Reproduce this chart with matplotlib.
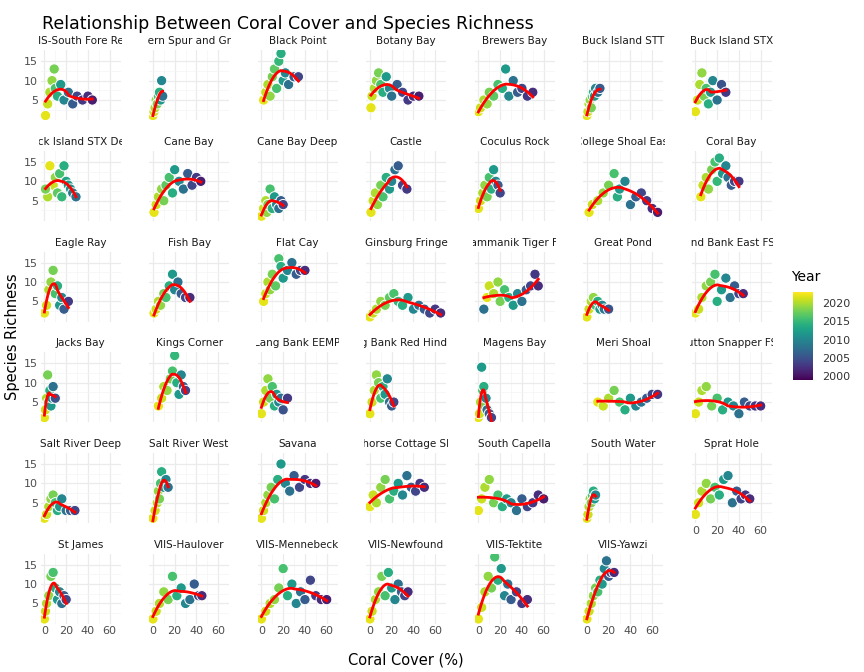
import numpy as np
import matplotlib
matplotlib.use('Agg')
import matplotlib.pyplot as plt
from matplotlib.transforms import Bbox, TransformedBbox

sites = ['VIIS-South Fore Reef', 'Western Spur and Groove', 'Black Point', 'Botany Bay', 'Brewers Bay',
         'Buck Island STT', 'Buck Island STX', 'Buck Island STX Deep', 'Cane Bay', 'Cane Bay Deep',
         'Castle', 'Coculus Rock', 'College Shoal East', 'Coral Bay', 'Eagle Ray', 'Fish Bay', 'Flat Cay',
         'Ginsburg Fringe', 'Grammanik Tiger FSA', 'Great Pond', 'Hind Bank East FSA', 'Jacks Bay',
         'Kings Corner', 'Lang Bank EEMP', 'Lang Bank Red Hind FSA', 'Magens Bay', 'Meri Shoal',
         'Mutton Snapper FSA', 'Salt River Deep', 'Salt River West', 'Savana', 'Seahorse Cottage Shoal',
         'South Capella', 'South Water', 'Sprat Hole', 'St James', 'VIIS-Haulover', 'VIIS-Mennebeck',
         'VIIS-Newfound', 'VIIS-Tektite', 'VIIS-Yawzi']

cover = [
    [1,3,5,7,9,10,12,15,18,22,26,30,35,40,44],
    [0,1,2,3,4,5,6,7,8,9],
    [2,4,6,8,10,12,14,16,18,20,22,25,30,34],
    [1,2,4,6,8,10,12,15,18,20,25,30,35,40,45],
    [0,2,5,8,10,14,18,22,25,28,32,36,40,45,50],
    [0,1,2,3,4,5,6,7,8,10,12],
    [0,2,4,6,8,10,12,14,16,20,24,28],
    [1,3,5,8,10,12,14,16,18,20,22,24,26,29],
    [1,3,5,8,10,12,15,18,20,24,28,32,36,40,44],
    [0,2,4,5,6,8,10,12,14,16,18,20],
    [1,3,5,7,10,12,15,18,20,23,26,30,34],
    [0,2,4,6,8,10,12,14,16,18,20],
    [2,5,10,15,20,25,28,30,35,40,45,50,55,60,65],
    [5,7,10,12,15,18,20,22,25,28,30,33,36,40],
    [0,2,4,6,8,10,12,14,16,18,22],
    [1,3,5,7,10,12,15,18,20,23,26,30,34],
    [2,4,6,8,10,13,16,18,20,24,28,32,36,40],
    [0,3,6,10,14,18,22,26,30,35,40,45,50,55,60,65],
    [5,8,10,14,18,20,24,28,32,36,40,44,48,52,55],
    [0,2,4,6,8,10,12,14,16,20],
    [0,3,6,10,14,18,20,24,28,32,36,40,44],
    [0,1,2,3,4,5,6,7,8,10],
    [5,8,10,13,16,18,20,22,24,26,28,30],
    [0,2,4,6,8,10,12,14,16,18,20,24],
    [0,2,4,6,8,10,12,14,16,18,20,22],
    [0,1,2,3,4,5,6,7,8,10,12],
    [10,15,20,25,30,35,40,45,50,55,60,65],
    [0,3,6,10,15,20,25,30,35,40,45,50,55,60],
    [0,2,4,6,8,10,12,14,16,20,24,28],
    [0,2,4,5,6,7,8,10,12,14],
    [0,2,4,6,9,12,15,18,22,26,30,35,40,45,50],
    [0,3,6,10,14,18,22,26,30,34,38,42,46,50],
    [0,3,6,10,14,18,22,26,30,35,40,45,50,55,60],
    [0,1,2,3,4,5,6,7,8],
    [0,3,6,10,14,18,22,26,30,34,38,42,46,50],
    [0,1,2,4,6,8,10,12,14,16,18,20],
    [0,3,6,10,14,18,22,26,30,34,38,42,45],
    [0,4,8,12,16,20,24,28,32,36,40,45,50,55,60],
    [0,2,5,8,11,14,17,20,23,26,29,32,35],
    [0,3,6,9,12,15,18,21,24,27,30,35,40,45],
    [0,2,4,6,8,10,12,14,16,18,20,22,25],
]

richness = [
    [1,4,7,10,13,8,6,9,5,7,4,6,5,6,5],
    [1,2,3,5,4,6,7,5,10,6],
    [5,7,9,6,11,13,8,15,17,10,12,9,11,11],
    [3,6,8,10,12,9,7,11,8,6,9,7,5,6,6],
    [2,3,5,4,7,6,9,8,13,6,10,7,8,6,7],
    [1,2,4,5,3,6,7,6,8,7,8],
    [2,5,9,12,6,8,4,7,10,5,9,7],
    [8,6,14,9,11,7,12,6,14,10,9,8,7,6],
    [2,4,6,8,5,9,11,7,13,10,8,12,9,11,10],
    [1,3,5,2,4,8,3,6,4,3,5,4],
    [2,5,7,4,9,6,11,8,10,13,14,9,8],
    [3,5,7,9,6,11,8,13,10,9,7],
    [2,4,5,7,9,12,6,8,10,4,6,7,5,3,2],
    [6,9,11,8,13,15,10,16,12,14,11,9,10,10],
    [2,4,8,10,13,7,9,4,6,3,5],
    [2,3,5,4,7,6,9,12,8,10,7,6,6],
    [5,7,10,8,12,9,16,14,11,13,15,12,13,13],
    [1,2,3,5,4,6,7,5,4,6,3,4,3,2,3,2],
    [3,6,9,7,10,5,8,6,4,7,5,8,9,12,9],
    [1,3,5,6,4,5,3,4,3,3],
    [2,3,6,9,10,12,5,8,11,6,9,7,7],
    [1,3,6,12,5,8,4,6,9,6],
    [4,6,9,8,11,13,17,10,7,12,9,8],
    [2,5,8,11,6,9,4,7,5,6,3,6],
    [2,5,8,12,10,6,9,7,11,5,4,5],
    [1,2,5,14,8,9,4,6,3,2,1],
    [5,4,6,8,5,3,6,4,5,6,7,7],
    [2,5,8,9,4,6,3,5,4,2,5,4,4,4],
    [1,2,4,6,7,5,3,4,6,3,3,3],
    [1,3,5,8,6,10,13,9,11,9],
    [1,3,5,7,9,6,11,15,10,8,12,9,11,10,10],
    [4,7,5,9,11,6,8,10,7,12,9,8,10,9],
    [3,6,9,11,5,7,4,6,5,3,6,4,5,7,6],
    [1,2,4,6,5,7,8,6,7],
    [2,5,8,10,6,9,7,11,12,5,8,6,7,6],
    [1,3,5,7,12,13,9,6,8,5,7,6],
    [1,3,5,8,6,12,7,9,5,6,10,7,7],
    [1,3,5,6,9,14,7,10,5,8,6,11,7,6,6],
    [1,3,6,8,12,7,13,9,6,10,8,7,8],
    [1,4,8,12,9,17,11,14,7,10,6,8,5,6],
    [1,3,5,7,9,8,11,10,14,16,12,13,13],
]

year = [
    [2022,2021,2020,2019,2018,2016,2014,2012,2010,2008,2006,2004,2003,2002,2001],
    [2022,2021,2020,2019,2018,2016,2014,2012,2010,2008],
    [2022,2021,2020,2019,2018,2017,2016,2015,2014,2012,2010,2008,2006,2004],
    [2022,2021,2020,2019,2018,2016,2014,2012,2010,2008,2006,2004,2003,2002,2001],
    [2022,2021,2020,2019,2018,2017,2016,2014,2012,2010,2008,2006,2004,2003,2002],
    [2022,2021,2020,2019,2018,2016,2014,2012,2010,2008,2006],
    [2022,2021,2020,2019,2018,2016,2014,2012,2010,2008,2005,2003],
    [2018,2020,2022,2021,2019,2017,2016,2015,2014,2013,2012,2011,2009,2008],
    [2022,2021,2020,2019,2018,2017,2016,2014,2012,2010,2008,2006,2004,2003,2001],
    [2022,2021,2020,2019,2018,2016,2014,2012,2010,2008,2006,2004],
    [2022,2021,2020,2019,2018,2016,2014,2012,2010,2008,2006,2004,2003],
    [2022,2021,2020,2019,2018,2016,2014,2012,2010,2006,2004],
    [2022,2021,2020,2019,2018,2016,2014,2012,2010,2008,2006,2004,2003,2002,2001],
    [2022,2021,2020,2019,2018,2016,2015,2014,2012,2010,2008,2006,2004,2003],
    [2022,2021,2020,2019,2018,2016,2014,2012,2010,2006,2003],
    [2022,2021,2020,2019,2018,2016,2014,2012,2010,2008,2006,2004,2002],
    [2022,2021,2020,2019,2018,2017,2016,2014,2012,2010,2008,2006,2004,2002],
    [2022,2021,2020,2019,2018,2017,2016,2015,2014,2012,2010,2008,2006,2004,2003,2002],
    [2008,2022,2021,2020,2019,2018,2016,2014,2012,2010,2008,2006,2004,2003,2002],
    [2022,2021,2020,2019,2016,2014,2012,2010,2008,2005],
    [2022,2021,2020,2019,2018,2016,2014,2012,2010,2008,2006,2004,2002],
    [2022,2021,2020,2018,2016,2014,2012,2010,2008,2005],
    [2022,2021,2020,2019,2018,2016,2015,2014,2012,2010,2006,2004],
    [2022,2021,2020,2019,2018,2016,2014,2012,2010,2008,2005,2003],
    [2022,2021,2020,2019,2018,2016,2014,2012,2010,2008,2006,2004],
    [2022,2021,2020,2012,2016,2014,2018,2010,2008,2006,2004],
    [2022,2021,2020,2018,2016,2014,2012,2010,2008,2006,2004,2003],
    [2022,2021,2020,2019,2018,2016,2014,2012,2010,2008,2006,2004,2003,2002],
    [2022,2021,2020,2019,2018,2016,2014,2012,2010,2008,2006,2004],
    [2022,2021,2020,2019,2018,2016,2014,2012,2010,2008],
    [2022,2021,2020,2019,2018,2016,2014,2012,2010,2008,2006,2004,2003,2002,2001],
    [2022,2021,2020,2019,2018,2016,2014,2012,2010,2008,2006,2004,2003,2002],
    [2022,2021,2020,2019,2018,2016,2014,2012,2010,2008,2006,2004,2003,2002,2001],
    [2022,2021,2020,2019,2018,2016,2014,2012,2010],
    [2022,2021,2020,2019,2018,2016,2014,2012,2010,2008,2006,2004,2003,2002],
    [2022,2021,2020,2019,2018,2016,2014,2012,2010,2008,2006,2004],
    [2022,2021,2020,2019,2018,2016,2014,2012,2010,2008,2006,2004,2002],
    [2022,2021,2020,2019,2018,2016,2014,2012,2010,2008,2006,2004,2003,2002,2001],
    [2022,2021,2020,2019,2018,2016,2014,2012,2010,2008,2006,2004,2002],
    [2022,2021,2020,2019,2018,2016,2014,2012,2010,2008,2006,2004,2003,2002],
    [2022,2021,2020,2019,2018,2016,2014,2012,2010,2008,2006,2004,2002],
]


def loess(x, y, span=1.0, n=80):
    # local quadratic fit with tricube weights, like ggplot's geom_smooth
    x = np.asarray(x, float)
    y = np.asarray(y, float)
    grid = np.linspace(x.min(), x.max(), n)
    q = int(np.ceil(span * len(x)))
    out = []
    for g in grid:
        d = np.abs(x - g)
        h = np.sort(d)[q - 1] * 1.15 + 1e-9
        w = (1 - (d / h) ** 3) ** 3
        w[d >= h] = 0
        X = np.column_stack([np.ones_like(x), x - g, (x - g) ** 2])
        sw = np.sqrt(w)
        beta = np.linalg.lstsq(X * sw[:, None], y * sw, rcond=None)[0]
        out.append(beta[0])
    return grid, np.array(out)


fig = plt.figure(figsize=(8.64, 6.72), dpi=100)
ncol, nrow = 7, 6
left, right, top, bottom = 0.047, 0.893, 0.925, 0.072
gapx, gapy = 0.033, 0.046
w = (right - left - gapx * (ncol - 1)) / ncol
h = (top - bottom - gapy * (nrow - 1)) / nrow
cmap = plt.get_cmap('viridis')
norm = plt.Normalize(1999, 2023)

for i, site in enumerate(sites):
    r, c = divmod(i, ncol)
    ax = fig.add_axes([left + c * (w + gapx), top - (r + 1) * h - r * gapy, w, h])
    ax.set_xlim(-3.5, 70)
    ax.set_ylim(-0.2, 17.8)
    ax.set_xticks([0, 20, 40, 60])
    ax.set_xticks([10, 30, 50], minor=True)
    ax.set_yticks([5, 10, 15])
    ax.set_yticks([2.5, 7.5, 12.5], minor=True)
    ax.grid(True, which='major', color='#ebebeb', lw=0.9)
    ax.grid(True, which='minor', color='#f4f4f4', lw=0.5)
    ax.set_axisbelow(True)
    for s in ax.spines.values():
        s.set_visible(False)
    ax.tick_params(which='both', length=0, labelsize=8, labelcolor='#4d4d4d', pad=2)
    show_x = (r == nrow - 1) or (i + ncol >= len(sites))
    if not show_x:
        ax.set_xticklabels([])
    if c != 0:
        ax.set_yticklabels([])
    order = np.argsort(year[i])[::-1]
    ax.scatter(np.array(cover[i])[order], np.array(richness[i])[order], c=np.array(year[i])[order],
               cmap=cmap, norm=norm, s=55, edgecolors='white', linewidths=0.7, zorder=2)
    gx, gy = loess(cover[i], richness[i])
    ax.plot(gx, gy, color='red', lw=2, zorder=3)
    t = ax.text(0.5, 1.06, site, transform=ax.transAxes, ha='center', va='bottom', fontsize=7.5, color='#1a1a1a')
    t.set_clip_box(TransformedBbox(Bbox([[-0.02, 1], [1.02, 1.4]]), ax.transAxes))
    t.set_clip_on(True)

fig.text(0.049, 0.965, 'Relationship Between Coral Cover and Species Richness', fontsize=12.5, ha='left', va='center')
fig.text((left + right) / 2, 0.018, 'Coral Cover (%)', ha='center', va='center', fontsize=10.5)
fig.text(0.014, (top + bottom) / 2, 'Species Richness', rotation=90, ha='center', va='center', fontsize=10.5)

cax = fig.add_axes([0.918, 0.435, 0.023, 0.13])
cb = fig.colorbar(plt.cm.ScalarMappable(norm=norm, cmap=cmap), cax=cax, ticks=[2000, 2005, 2010, 2015, 2020])
cb.outline.set_visible(False)
cax.tick_params(labelsize=8, length=3, color='white', labelcolor='#333333')
fig.text(0.916, 0.588, 'Year', fontsize=10, ha='left', va='center')

fig.savefig('out.png', dpi=100)
